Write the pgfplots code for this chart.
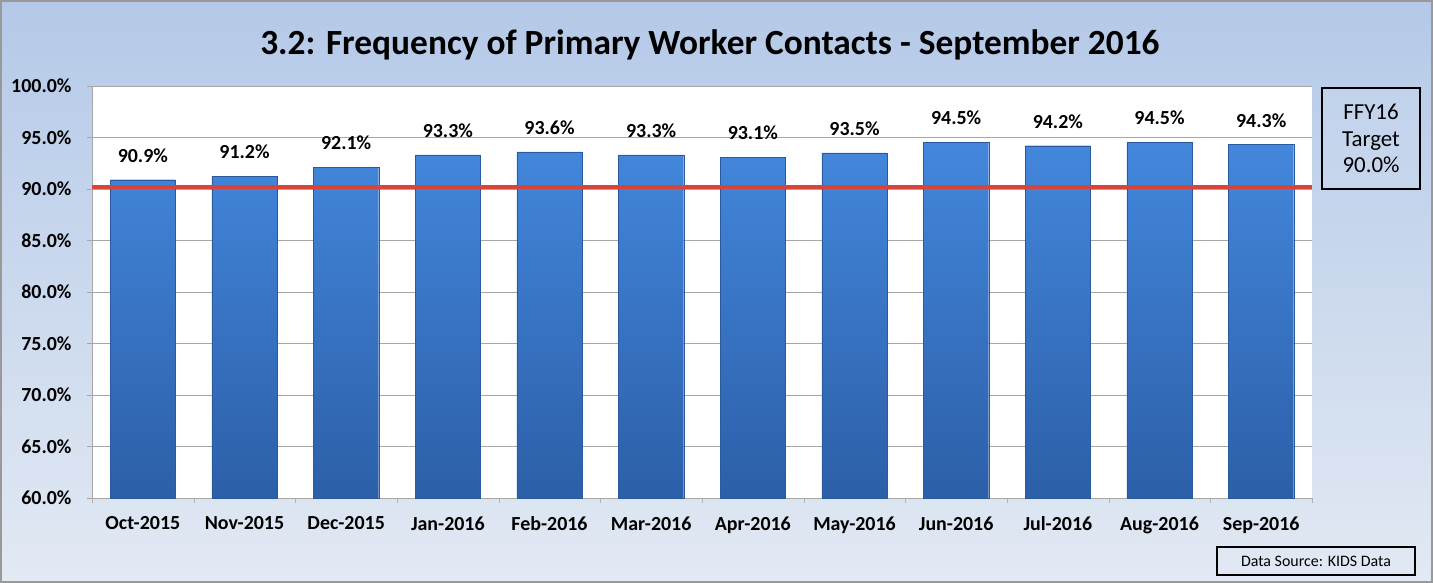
\documentclass[border=0pt]{standalone}
\usepackage{pgfplots}
\pgfplotsset{compat=1.18}
\usepackage{fontspec}
\setmainfont{Carlito}
\definecolor{bgtop}{HTML}{B4C9E8}
\definecolor{bgbot}{HTML}{E2E9F3}
\definecolor{bartop}{HTML}{4387DC}
\definecolor{barbot}{HTML}{2C5FA8}
\definecolor{baredge}{HTML}{2A5A9E}
\definecolor{target}{HTML}{D9443A}
\begin{document}
\begin{tikzpicture}[x=1bp,y=1bp]
\shade[top color=bgtop, bottom color=bgbot] (0,0) rectangle (1433,583);
\draw[gray!80, line width=1.5bp] (1,1) rectangle (1432,582);
\node[font=\fontsize{35.5}{40}\selectfont\bfseries] at (710,538) {3.2: Frequency of Primary Worker Contacts - September 2016};
\begin{axis}[
  at={(92bp,85bp)}, anchor=south west, scale only axis,
  width=1220bp, height=412bp,
  xmin=-0.5, xmax=11.5, ymin=60, ymax=100,
  axis background/.style={fill=white},
  xtick={0,...,11},
  xticklabels={Oct-2015,Nov-2015,Dec-2015,Jan-2016,Feb-2016,Mar-2016,Apr-2016,May-2016,Jun-2016,Jul-2016,Aug-2016,Sep-2016},
  major x tick style={draw=none},
  minor xtick={-0.5,0.5,...,11.5},
  minor x tick style={gray!60},
  ytick={60,65,...,100},
  yticklabel={\pgfmathprintnumber[fixed,fixed zerofill,precision=1]{\tick}\%},
  ymajorgrids, grid style={gray!70, line width=0.8bp},
  tick align=outside, major tick length=5bp, minor tick length=5bp,
  y tick style={gray!70},
  axis line style={gray!70},
  axis x line*=bottom, axis y line*=left,
  ticklabel style={font=\fontsize{20}{22}\selectfont\bfseries},
  xticklabel style={yshift=-10bp},
  yticklabel style={xshift=-12bp},
  /pgf/number format/assume math mode=true,
  clip=false,
]
\addplot[ybar, bar width=0.64, draw=baredge, top color=bartop, bottom color=barbot,
  nodes near coords={\pgfmathprintnumber[fixed,fixed zerofill,precision=1]{\pgfplotspointmeta}\%},
  nodes near coords style={font=\fontsize{20}{22}\selectfont\bfseries, yshift=14bp},
] coordinates {
(0,90.9) (1,91.2) (2,92.1) (3,93.3) (4,93.6) (5,93.3)
(6,93.1) (7,93.5) (8,94.5) (9,94.2) (10,94.5) (11,94.3)};
\addplot[target, line width=3.5bp, no marks] coordinates {(-0.5,90.2) (11.5,90.2)};
\end{axis}
\draw[black, line width=1.5bp, fill=bgtop!60!white, fill opacity=0.3] (1322,394) rectangle (1420,495);
\node[font=\fontsize{23}{26.5}\selectfont, align=center] at (1371,444.5) {FFY16\\Target\\90.0\%};
\draw[black, line width=1.5bp] (1217,8) rectangle (1415,36);
\node[font=\fontsize{16}{18}\selectfont] at (1316,22) {Data Source: KIDS Data};
\end{tikzpicture}
\end{document}
